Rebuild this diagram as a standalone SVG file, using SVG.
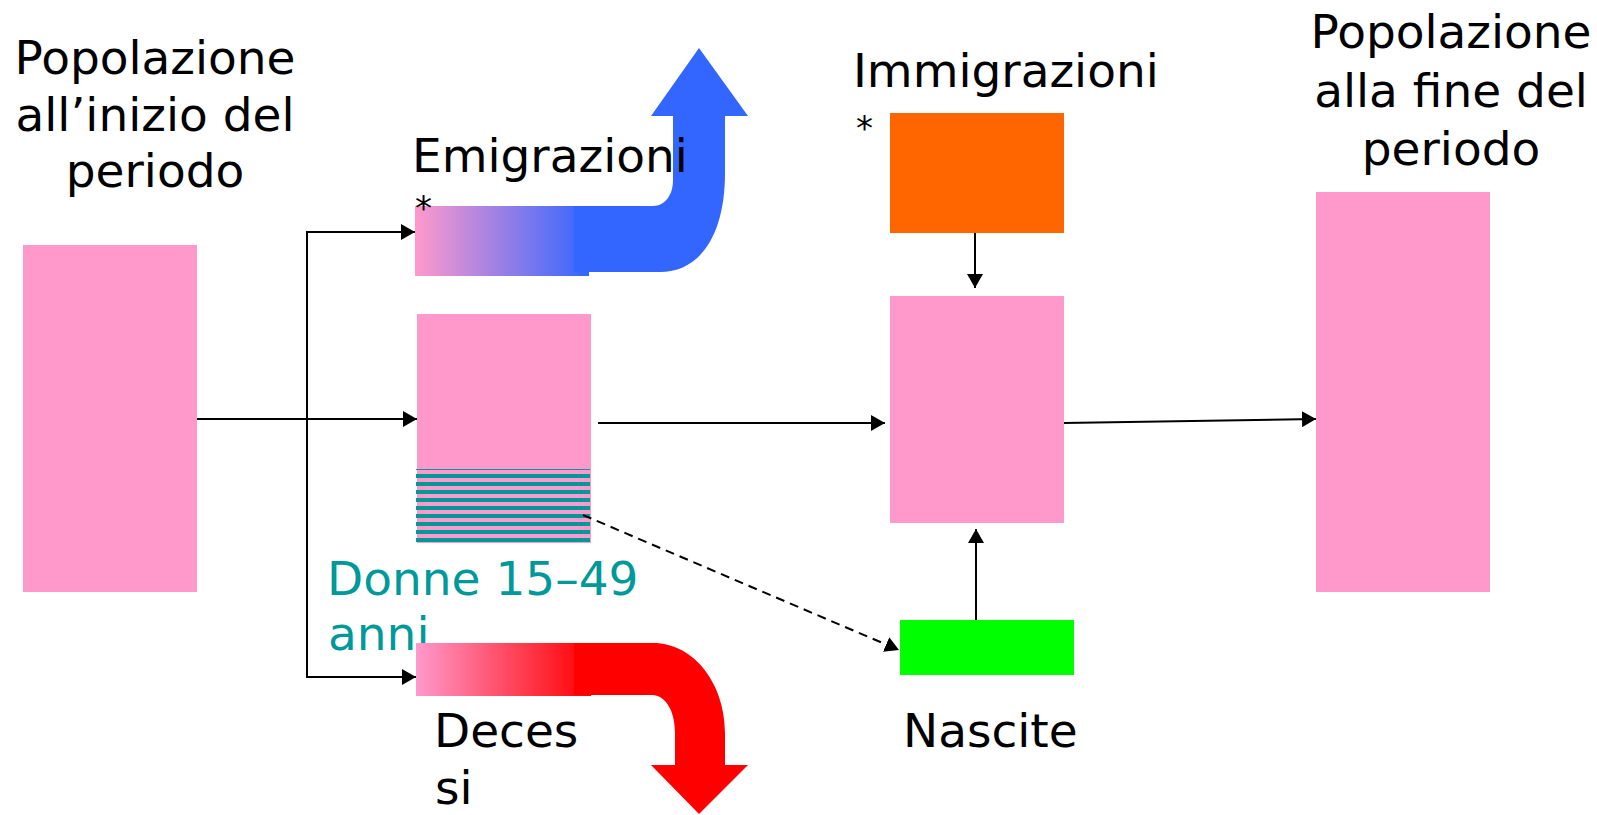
<svg xmlns="http://www.w3.org/2000/svg" width="1597" height="815" viewBox="0 0 1597 815">
<style>
text{font-family:"DejaVu Sans","Liberation Sans",sans-serif;font-size:47px;fill:#000}
text.star{font-size:34px}
.teal{fill:#009999}
.pink{fill:#FF99CC}
.conn{stroke:#000;stroke-width:2;fill:none}
.dash{stroke-dasharray:9 6}
</style>
<defs>
<marker id="ah" markerUnits="userSpaceOnUse" markerWidth="15" markerHeight="16" refX="14" refY="8" orient="auto">
<path d="M0,0 L14,8 L0,16 z" fill="#000"/>
</marker>
<linearGradient id="gBlue" x1="0" y1="0" x2="1" y2="0">
<stop offset="0" stop-color="#FF99CC"/>
<stop offset="1" stop-color="#3366FF"/>
</linearGradient>
<linearGradient id="gRed" x1="0" y1="0" x2="1" y2="0">
<stop offset="0" stop-color="#FF99CC"/>
<stop offset="1" stop-color="#FF0000"/>
</linearGradient>
</defs>
<rect width="1597" height="815" fill="#fff"/>

<g id="start">
<rect class="pink" x="23" y="245" width="174" height="347"/>
<text text-anchor="middle" x="155" y="74">Popolazione</text>
<text text-anchor="middle" x="155" y="131">all’inizio del</text>
<text text-anchor="middle" x="155" y="187">periodo</text>
</g>

<g id="emigrazioni">
<rect x="415" y="206" width="174" height="70" fill="url(#gBlue)"/>
<path d="M574,206 L653,206 C665,206 673,195 673,180 L673,116 L651,116 L699,48 L748,116 L725,116 L725,173 C725,235 700,272 660,272 L574,272 Z" fill="#3366FF"/>
<text x="412" y="172">Emigrazioni</text>
<text class="star" x="415" y="220">*</text>
</g>

<g id="survivors">
<rect class="pink" x="417" y="314" width="174" height="229"/>
<rect x="416" y="469" width="174" height="1" fill="#009999"/>
<rect x="416" y="474" width="174" height="4" fill="#009999"/>
<rect x="416" y="482" width="174" height="4" fill="#009999"/>
<rect x="416" y="490" width="174" height="4" fill="#009999"/>
<rect x="416" y="498" width="174" height="4" fill="#009999"/>
<rect x="416" y="506" width="174" height="4" fill="#009999"/>
<rect x="416" y="514" width="174" height="4" fill="#009999"/>
<rect x="416" y="522" width="174" height="4" fill="#009999"/>
<rect x="416" y="530" width="174" height="4" fill="#009999"/>
<rect x="416" y="538" width="174" height="4" fill="#009999"/>
<text class="teal" x="327" y="595">Donne 15–49</text>
<text class="teal" x="328" y="650">anni</text>
</g>

<g id="decessi">
<rect x="416" y="643" width="175" height="53" fill="url(#gRed)"/>
<path d="M574,643 L653,643 C695,643 725,685 725,733 L725,765 L748,765 L699,814 L651,765 L675,765 L675,733 C675,710 665,695 652,695 L574,695 Z" fill="#FF0000"/>
<text x="434" y="747">Deces</text>
<text x="435" y="804">si</text>
</g>

<g id="immigrazioni">
<rect x="890" y="113" width="174" height="120" fill="#FF6600"/>
<text x="853" y="87">Immigrazioni</text>
<text class="star" x="856" y="140">*</text>
</g>

<g id="middle">
<rect class="pink" x="890" y="296" width="174" height="227"/>
</g>

<g id="nascite">
<rect x="900" y="620" width="174" height="55" fill="#00FF00"/>
<text x="903" y="747">Nascite</text>
</g>

<g id="end">
<rect class="pink" x="1316" y="192" width="174" height="400"/>
<text text-anchor="middle" x="1451" y="48">Popolazione</text>
<text text-anchor="middle" x="1451" y="107">alla fine del</text>
<text text-anchor="middle" x="1451" y="165">periodo</text>
</g>

<g id="connectors">
<line class="conn" x1="197" y1="419" x2="417" y2="419" marker-end="url(#ah)"/>
<line class="conn" x1="307" y1="232" x2="307" y2="677"/>
<line class="conn" x1="306" y1="232" x2="415" y2="232" marker-end="url(#ah)"/>
<line class="conn" x1="306" y1="677" x2="416" y2="677" marker-end="url(#ah)"/>
<line class="conn" x1="598" y1="423" x2="885" y2="423" marker-end="url(#ah)"/>
<line class="conn" x1="1064" y1="423" x2="1316" y2="419" marker-end="url(#ah)"/>
<line class="conn" x1="975" y1="233" x2="975" y2="288" marker-end="url(#ah)"/>
<line class="conn" x1="976" y1="620" x2="976" y2="529" marker-end="url(#ah)"/>
<line class="conn dash" x1="583" y1="515" x2="899" y2="650" marker-end="url(#ah)"/>
</g>
</svg>
